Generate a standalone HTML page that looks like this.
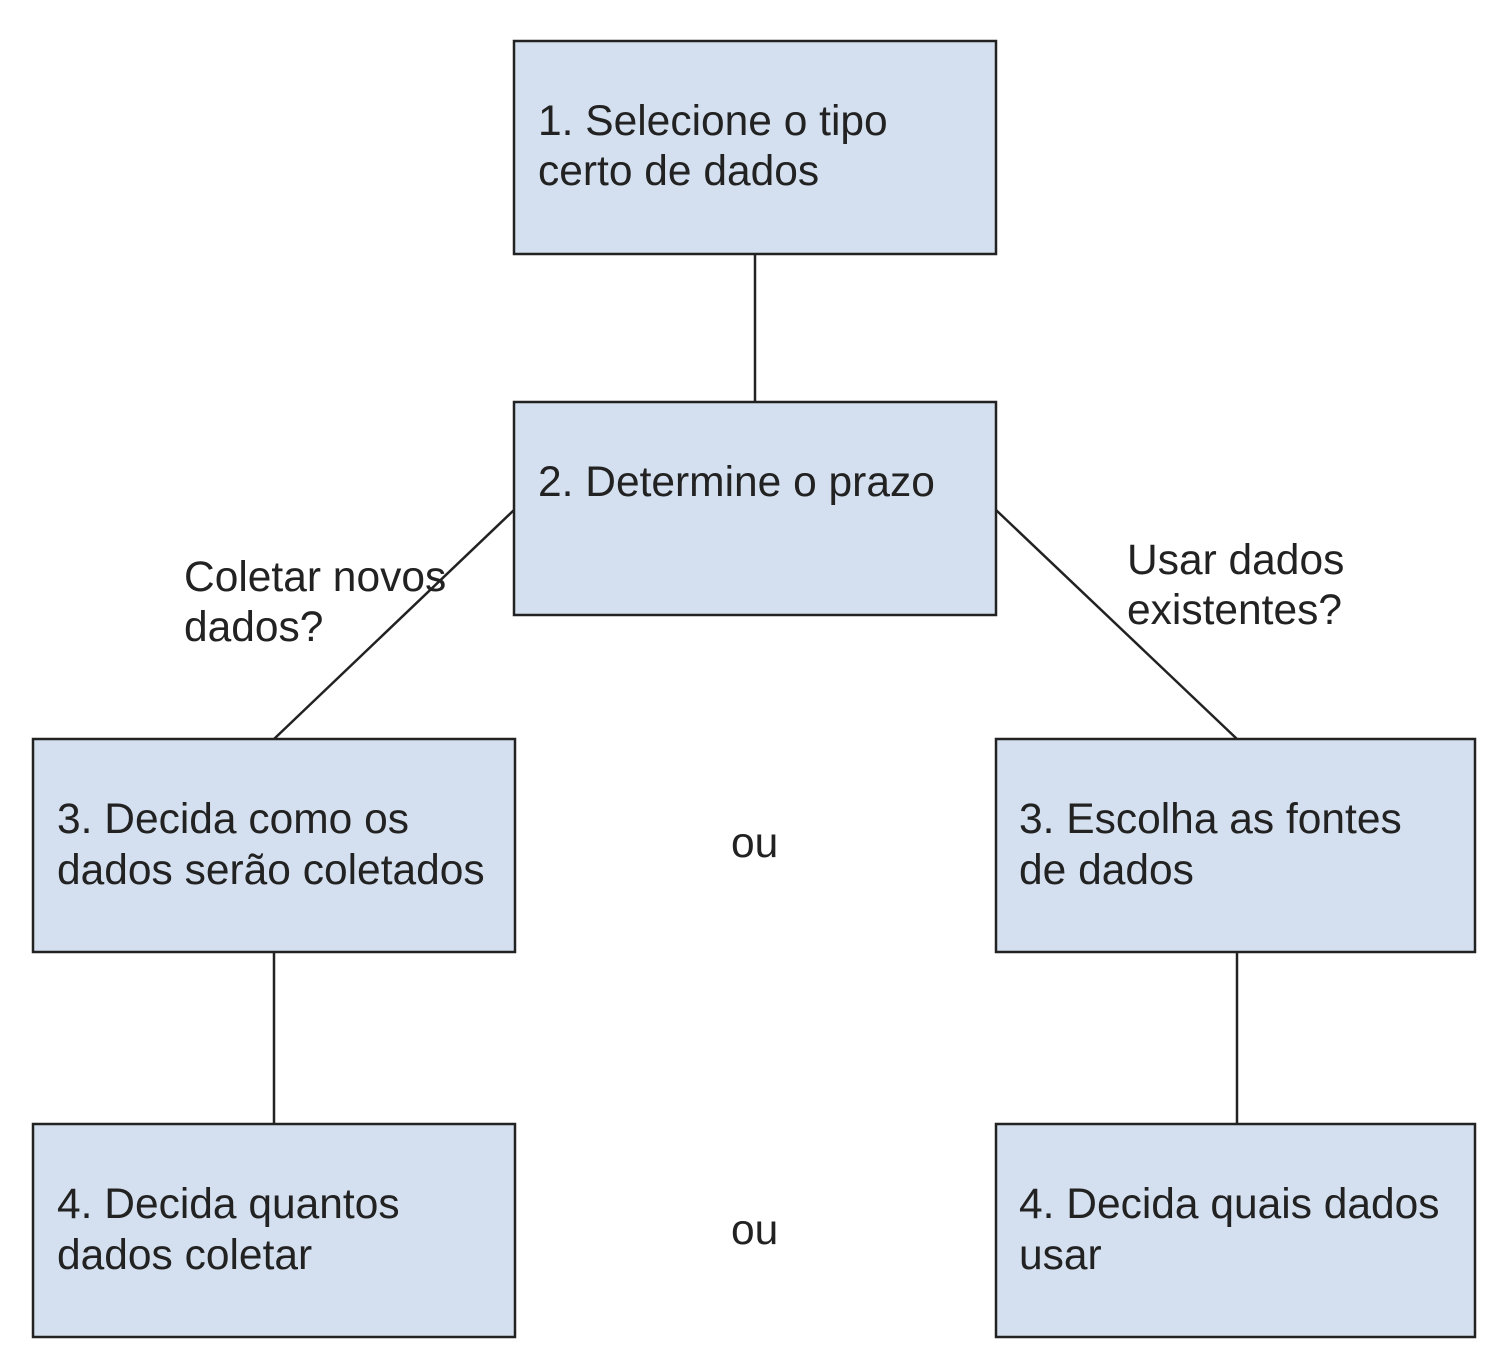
<!DOCTYPE html>
<html><head><meta charset="utf-8"><style>html,body{margin:0;padding:0;background:#fff}svg{display:block}</style></head>
<body>
<svg width="1506" height="1370" xmlns="http://www.w3.org/2000/svg" font-family="Liberation Sans, Arial, sans-serif" font-size="42.5" fill="#222">
<g stroke="#222" stroke-width="2.5">
<line x1="755" y1="254" x2="755" y2="402"/>
<line x1="514" y1="510" x2="274" y2="739"/>
<line x1="996" y1="510" x2="1237" y2="739"/>
<line x1="274" y1="952" x2="274" y2="1124"/>
<line x1="1237" y1="952" x2="1237" y2="1124"/>
</g>
<g fill="#d4e0ef" stroke="#222" stroke-width="2.5">
<rect x="514" y="41" width="482" height="213"/>
<rect x="514" y="402" width="482" height="213"/>
<rect x="33" y="739" width="482" height="213"/>
<rect x="996" y="739" width="479" height="213"/>
<rect x="33" y="1124" width="482" height="213"/>
<rect x="996" y="1124" width="479" height="213"/>
</g>
<text x="538" y="135">1. Selecione o tipo</text>
<text x="538" y="185">certo de dados</text>
<text x="538" y="496">2. Determine o prazo</text>
<text x="57" y="833">3. Decida como os</text>
<text x="57" y="884">dados serão coletados</text>
<text x="1019" y="833">3. Escolha as fontes</text>
<text x="1019" y="884">de dados</text>
<text x="57" y="1218">4. Decida quantos</text>
<text x="57" y="1269">dados coletar</text>
<text x="1019" y="1218">4. Decida quais dados</text>
<text x="1019" y="1269">usar</text>
<text x="184" y="591">Coletar novos</text>
<text x="184" y="641">dados?</text>
<text x="1127" y="574">Usar dados</text>
<text x="1127" y="624">existentes?</text>
<text x="731" y="857">ou</text>
<text x="731" y="1244">ou</text>
</svg>
</body></html>
